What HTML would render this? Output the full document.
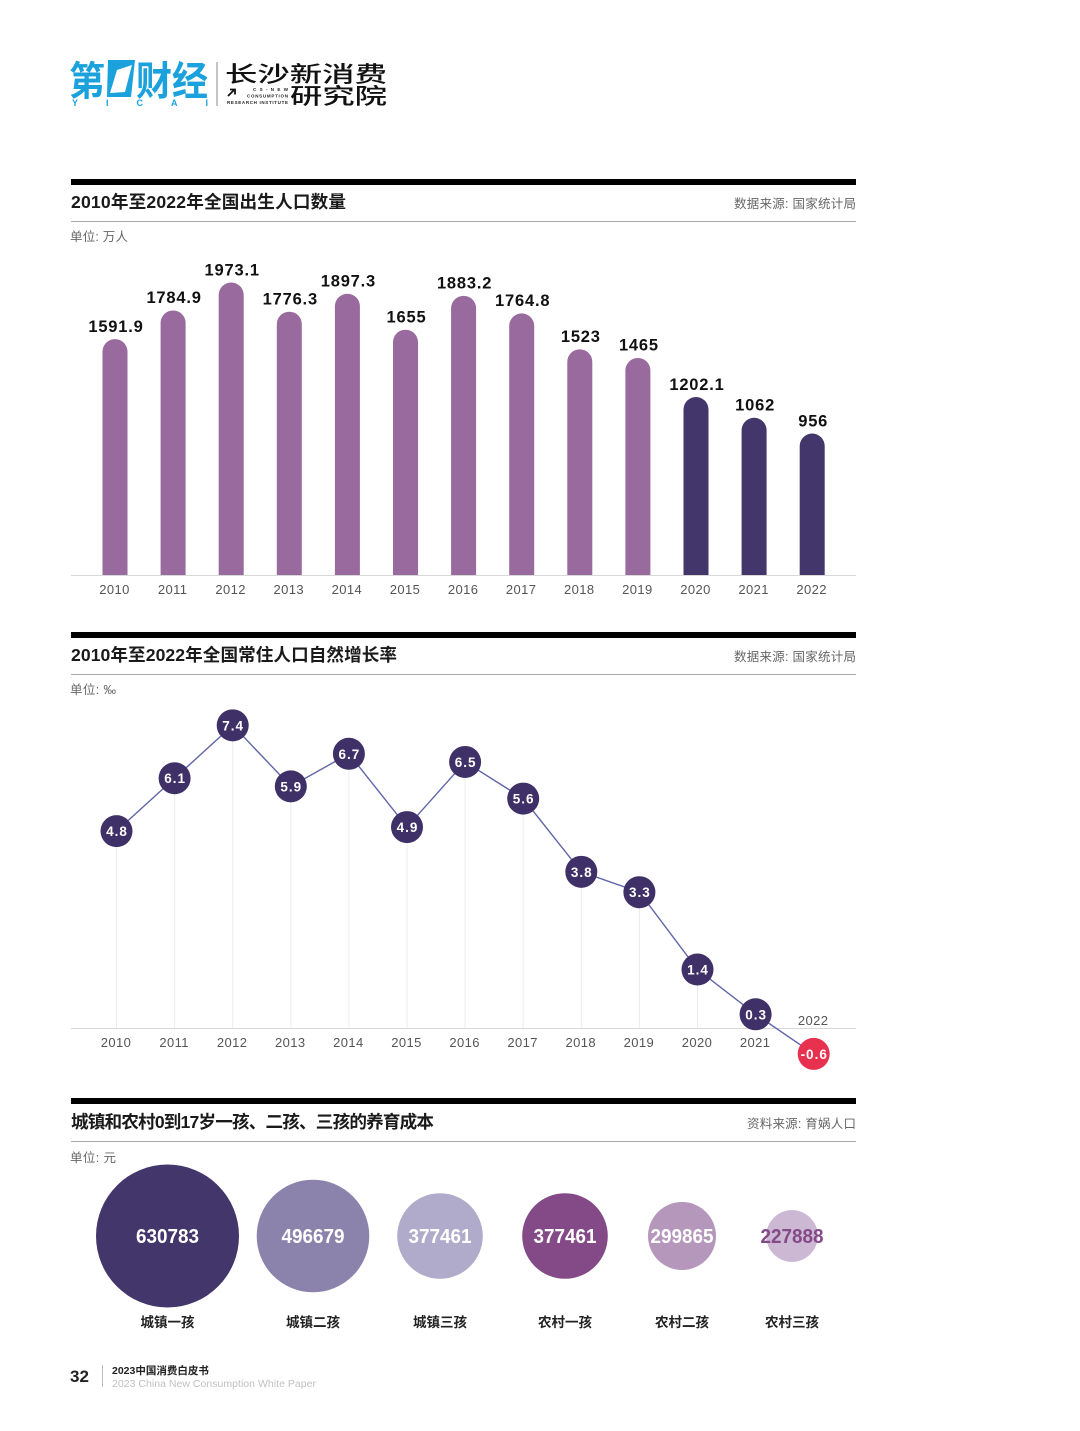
<!DOCTYPE html>
<html lang="zh">
<head>
<meta charset="utf-8">
<title>2023中国消费白皮书</title>
<style>
html,body{margin:0;padding:0;background:#fff;}
svg{display:block;}
text{font-family:"Liberation Sans","Noto Sans CJK SC",sans-serif;}
.title{font-size:17.6px;font-weight:700;fill:#1a1a1a;}
.src{font-size:12.5px;fill:#666;text-anchor:end;}
.unit{font-size:12.5px;fill:#666;}
.tick{font-size:13px;fill:#555;text-anchor:middle;letter-spacing:.4px;}
.val{font-size:16.5px;font-weight:700;fill:#111;text-anchor:middle;letter-spacing:.8px;}
.pt{font-size:13.5px;font-weight:700;fill:#fff;text-anchor:middle;letter-spacing:1px;}
.bub{font-size:20px;font-weight:700;text-anchor:middle;}
.bubl{font-size:13.5px;font-weight:700;fill:#222;text-anchor:middle;}
</style>
</head>
<body>
<svg id="page" xmlns="http://www.w3.org/2000/svg" width="1080" height="1431" viewBox="0 0 1080 1431">
  <rect width="1080" height="1431" fill="#fff"/>

  <g>
    <text x="69" y="95" font-size="40" font-weight="700" fill="#1ba1dc" textLength="36" lengthAdjust="spacingAndGlyphs">第</text>
    <path d="M108 60H135L131 97H107Z" fill="#1ba1dc"/>
    <path d="M117 70L132 65L125 92L110 93Z" fill="#fff"/>
    <text x="136" y="95" font-size="40" font-weight="700" fill="#1ba1dc" textLength="72" lengthAdjust="spacingAndGlyphs">财经</text>
    <text x="72" y="106" font-size="9" font-weight="700" fill="#1ba1dc" textLength="136">YICAI</text>
    <rect x="216.500" y="62" width="1" height="44" fill="#888"/>
    <text x="225" y="82" font-size="22" font-weight="500" fill="#111" textLength="162" lengthAdjust="spacingAndGlyphs">长沙新消费</text>
    <text x="290" y="104" font-size="22" font-weight="500" fill="#111" textLength="97" lengthAdjust="spacingAndGlyphs">研究院</text>
    <path d="M228 96L234 90M230 89.500H235V94.500" stroke="#111" stroke-width="1.800" fill="none"/>
    <text x="253" y="91" font-size="4.500" font-weight="700" fill="#222" textLength="35">CS-NEW</text>
    <text x="247" y="97.500" font-size="4.500" font-weight="700" fill="#222" textLength="41">CONSUMPTION</text>
    <text x="227" y="104" font-size="4.500" font-weight="700" fill="#222" textLength="61">RESEARCH INSTITUTE</text>
  </g>

  <g>
    <rect x="71" y="179" width="785" height="6" fill="#000"/>
    <text class="title" x="71" y="208" textLength="275">2010年至2022年全国出生人口数量</text>
    <text class="src" x="856" y="208" textLength="122">数据来源: 国家统计局</text>
    <rect x="71" y="221" width="785" height="1" fill="#aaa"/>
    <text class="unit" x="70" y="241" textLength="58">单位: 万人</text>
  </g>
  <g id="bars"></g>

  <g>
    <rect x="71" y="632" width="785" height="6" fill="#000"/>
    <text class="title" x="71" y="661" textLength="326">2010年至2022年全国常住人口自然增长率</text>
    <text class="src" x="856" y="661" textLength="122">数据来源: 国家统计局</text>
    <rect x="71" y="674" width="785" height="1" fill="#aaa"/>
    <text class="unit" x="70" y="694" textLength="46">单位: ‰</text>
  </g>
  <g id="line"></g>

  <g>
    <rect x="71" y="1098" width="785" height="6" fill="#000"/>
    <text class="title" x="71" y="1128" textLength="363">城镇和农村0到17岁一孩、二孩、三孩的养育成本</text>
    <text class="src" x="856" y="1128" textLength="109">资料来源: 育娲人口</text>
    <rect x="71" y="1141" width="785" height="1" fill="#aaa"/>
    <text class="unit" x="70" y="1162" textLength="46">单位: 元</text>
  </g>
  <g id="bubbles"></g>

  <g>
    <text x="70" y="1382" font-size="17" font-weight="700" fill="#222">32</text>
    <rect x="102" y="1365" width="1" height="22" fill="#bbb"/>
    <text x="112" y="1374" font-size="10.500" font-weight="700" fill="#222">2023中国消费白皮书</text>
    <text x="112" y="1387" font-size="10.500" fill="#c0c0c0" textLength="204">2023 China New Consumption White Paper</text>
  </g>
</svg>
<script>
const years = [2010,2011,2012,2013,2014,2015,2016,2017,2018,2019,2020,2021,2022];
const births = [1591.9,1784.9,1973.1,1776.3,1897.3,1655,1883.2,1764.8,1523,1465,1202.1,1062,956];
const highlightYears = [2020,2021,2022];
const growthRates = [4.8,6.1,7.4,5.9,6.7,4.9,6.5,5.6,3.8,3.3,1.4,0.3,-0.6];
const costLabels = ['城镇一孩','城镇二孩','城镇三孩','农村一孩','农村二孩','农村三孩'];
const costValues = [630783,496679,377461,377461,299865,227888];

const NS = 'http://www.w3.org/2000/svg';
function mk(parent, tag, attrs, txt){
  const el = document.createElementNS(NS, tag);
  for (const k in attrs) el.setAttribute(k, attrs[k]);
  if (txt !== undefined) el.textContent = txt;
  parent.appendChild(el);
  return el;
}

/* ---------- births bar chart ---------- */
const barBase = 575.5;
const barX = i => 115 + 58.1 * i;
const barY = v => barBase - v * 0.1485;
const barW = 25;
const barsG = document.getElementById('bars');
births.forEach((v, i) => {
  const x = barX(i), y = barY(v), r = barW / 2;
  const isHi = highlightYears.includes(years[i]);
  const d = 'M' + (x - r) + ' ' + barBase + 'V' + (y + r) + 'A' + r + ' ' + r + ' 0 0 1 ' + (x + r) + ' ' + (y + r) + 'V' + barBase + 'Z';
  const bar = mk(barsG, 'path', {d: d, fill: isHi ? '#43366b' : '#996a9e'});
  
  
  const lab = mk(barsG, 'text', {class: 'val', x: x + 1, y: y - 7.2}, String(v));
  
  
  const tick = mk(barsG, 'text', {class: 'tick', x: x - 0.5, y: 594}, String(years[i]));
  
  
});
const barAxis = mk(barsG, 'rect', {x: 71, y: 575, width: 785, height: 1, fill: '#d8d8d8'});



/* ---------- growth line chart ---------- */
const lineAxisY = 1028.5;
const lineX = i => 116.5 + 58.1 * i;
const lineY = v => 1026.5 - v * 40.7 + (v < 0 ? 3 : 0);
const lineG = document.getElementById('line');
growthRates.forEach((v, i) => {
  if (v > 0) {
    const drop = mk(lineG, 'line', {x1: lineX(i), x2: lineX(i), y1: lineY(v), y2: lineAxisY, stroke: '#ececec', 'stroke-width': 1});
    
    
  }
});
const lineAxis = mk(lineG, 'rect', {x: 71, y: 1028, width: 785, height: 1, fill: '#d8d8d8'});


const pts = growthRates.map((v, i) => lineX(i) + ',' + lineY(v)).join(' ');
const poly = mk(lineG, 'polyline', {points: pts, fill: 'none', stroke: '#6065a8', 'stroke-width': 1.4});


growthRates.forEach((v, i) => {
  const x = lineX(i), y = lineY(v);
  const c = mk(lineG, 'circle', {cx: x, cy: y, r: 16, fill: v < 0 ? '#e8304f' : '#3f3068'});
  
  
  const t = mk(lineG, 'text', {class: 'pt', x: x + 0.5, y: y + 5}, v.toFixed(1));
  
  
  const tick = mk(lineG, 'text', {class: 'tick', x: x - 0.5, y: v < 0 ? 1025 : 1047}, String(years[i]));
  
  
});

/* ---------- cost bubbles ---------- */
const bubbleCenters = i => 167.5 + [0, 145.5, 272.5, 397.5, 514.5, 624.5][i];
const bubbleR = v => v * 71.5 / 630783;
const bubbleFill = ['#43366b','#8b83ab','#b1abcb','#834a87','#b597bc','#cdb8d4'];
const bubbleInk = ['#fff','#fff','#fff','#fff','#fff','#834a87'];
const bubG = document.getElementById('bubbles');
costValues.forEach((v, i) => {
  const x = bubbleCenters(i);
  const c = mk(bubG, 'circle', {cx: x, cy: 1236, r: bubbleR(v), fill: bubbleFill[i]});
  
  
  const t = mk(bubG, 'text', {class: 'bub', x: x, y: 1243, fill: bubbleInk[i], textLength: 63, lengthAdjust: 'spacingAndGlyphs'}, String(v));
  
  
  const l = mk(bubG, 'text', {class: 'bubl', x: x, y: 1327}, costLabels[i]);
  
  
});
</script>
</body>
</html>
